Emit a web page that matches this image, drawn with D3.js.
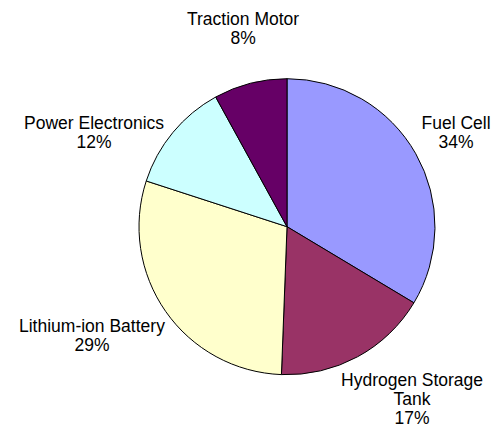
<!DOCTYPE html>
<html>
<head>
<meta charset="utf-8">
<script src="https://cdn.jsdelivr.net/npm/d3@7"></script>
<style>
  html, body { margin: 0; padding: 0; background: #fff; }
  svg { display: block; }
</style>
</head>
<body>
<svg id="chart" width="494" height="430"></svg>
<script>
// Data
const categories = ["Fuel Cell", "Hydrogen Storage Tank", "Lithium-ion Battery", "Power Electronics", "Traction Motor"];
const labelLines = [["Fuel Cell"], ["Hydrogen Storage", "Tank"], ["Lithium-ion Battery"], ["Power Electronics"], ["Traction Motor"]];
const values = [33.6, 17.0, 29.4, 12.0, 8.0];
const colors = ["#9999FF", "#993366", "#FFFFCC", "#CCFFFF", "#660066"];

// Layout
const cx = 287, cy = 226.7, radius = 148;
const labelNudge = [[1.6, -2.9], [33.4, -9.9], [-37.3, -4.8], [-44.7, 24.8], [3.9, -15.3]];
const lineHeight = 19;

const svg = d3.select("#chart");
const g = svg.append("g").attr("transform", `translate(${cx},${cy})`);

const pie = d3.pie().sort(null).value(d => d.value);
const data = categories.map((c, i) => ({ name: c, value: values[i], i }));
const arcs = pie(data);
const total = d3.sum(values);

const arc = d3.arc().innerRadius(0).outerRadius(radius);
const labelArc = d3.arc().innerRadius(radius * 1.3).outerRadius(radius * 1.3);

g.selectAll("path.slice")
  .data(arcs)
  .enter().append("path")
  .attr("class", "slice")
  .attr("d", arc)
  .attr("fill", (d, i) => colors[i])
  .attr("stroke", "#000")
  .attr("stroke-width", 1)
  .attr("stroke-linejoin", "round");

const labels = g.selectAll("text.lbl")
  .data(arcs)
  .enter().append("text")
  .attr("class", "lbl")
  .attr("text-anchor", "middle")
  .attr("font-family", "'Liberation Sans', Arial, sans-serif")
  .attr("font-size", 17.5)
  .attr("fill", "#000")
  .attr("transform", (d, i) => {
    const [x, y] = labelArc.centroid(d);
    return `translate(${x + labelNudge[i][0]},${y + labelNudge[i][1]})`;
  });

labels.each(function(d, i) {
  const t = d3.select(this);
  const lines = labelLines[i].concat([Math.round(d.value / total * 100) + "%"]);
  lines.forEach((ln, k) => {
    t.append("tspan").attr("x", 0).attr("y", k * lineHeight).text(ln);
  });
});
</script>
</body>
</html>
